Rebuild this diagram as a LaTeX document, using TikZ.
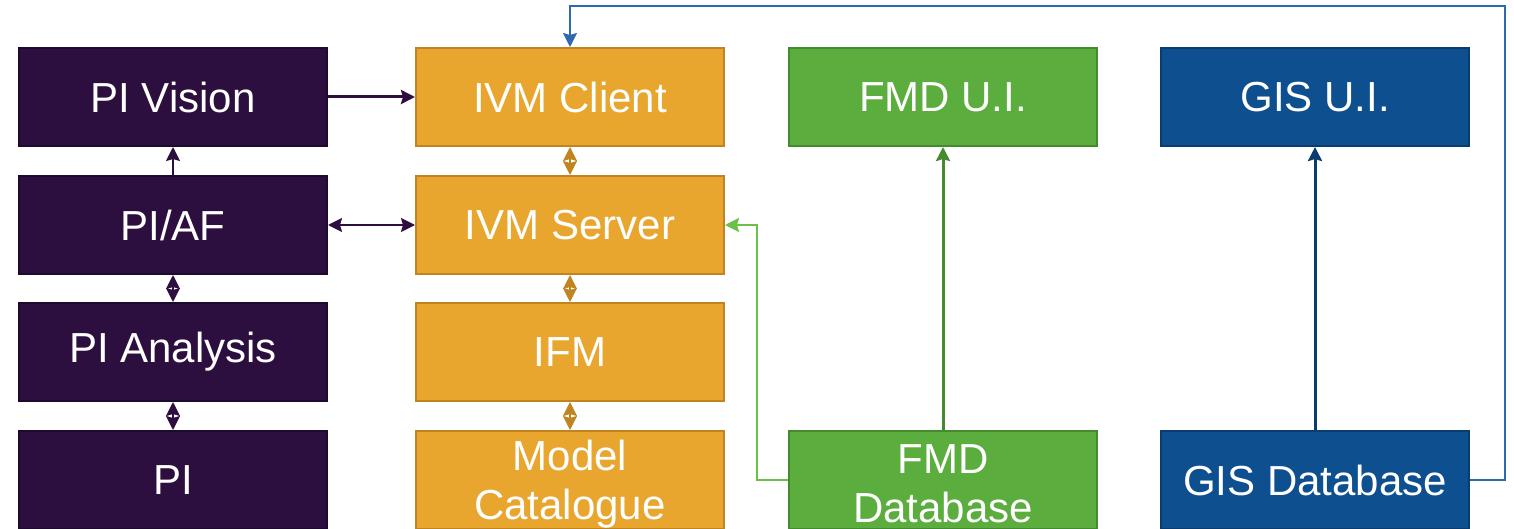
\documentclass[tikz,border=0pt]{standalone}
\usepackage{fontspec}
\setmainfont{Liberation Sans}
\usetikzlibrary{arrows.meta}
\definecolor{pur}{HTML}{2C0F3E}
\definecolor{purd}{HTML}{1E0A2C}
\definecolor{org}{HTML}{E8A62F}
\definecolor{orgd}{HTML}{C08420}
\definecolor{grn}{HTML}{5BAD3E}
\definecolor{grnd}{HTML}{448A2F}
\definecolor{grnl}{HTML}{6CC04A}
\definecolor{blu}{HTML}{0E4F8F}
\definecolor{blud}{HTML}{0A3C6E}
\definecolor{blul}{HTML}{2E6AAD}
\begin{document}
\begin{tikzpicture}[x=1pt,y=-1pt,
  >={Stealth[length=14pt,width=14pt,inset=2pt]},
  box/.style={minimum width=308pt,minimum height=98pt,inner sep=0pt,line width=2pt,
    text=white,align=center,font=\fontsize{42}{49}\selectfont},
  pbox/.style={box,fill=pur,draw=purd},
  obox/.style={box,fill=org,draw=orgd},
  gbox/.style={box,fill=grn,draw=grnd},
  bbox/.style={box,fill=blu,draw=blud},
  lbl/.style={text=white,align=center,inner sep=0pt,font=\fontsize{42}{49}\selectfont},
  conn/.style={line width=2pt}]
\useasboundingbox (0,0) rectangle (1514,529);
% column 1
\node[pbox] (vision) at (173,97) {PI Vision};
\node[pbox] (piaf) at (173,225) {PI/AF};
\node[pbox] (analysis) at (173,352) {PI Analysis};
\node[pbox] (pi) at (173,480) {PI};
% column 2
\node[obox] (client) at (570,97) {IVM Client};
\node[obox] (server) at (570,225) {IVM Server};
\node[obox] (ifm) at (570,352) {IFM};
\node[obox] (model) at (570,480) {};
\node[lbl] (modeltext) at (570,484) {Model\\Catalogue};
% column 3
\node[gbox] (fmdui) at (943,97) {FMD U.I.};
\node[gbox] (fmddb) at (943,480) {};
\node[lbl] (fmdtext) at (943,484) {FMD\\Database};
% column 4
\node[bbox] (gisui) at (1315,97) {GIS U.I.};
\node[bbox] (gisdb) at (1315,480) {GIS Database};
% connectors
\draw[conn,pur,line width=3pt,->] (vision.east) -- (client.west);
\draw[conn,pur,<->] (piaf.east) -- (server.west);
\draw[conn,pur,->] (piaf.north) -- (vision.south);
\draw[conn,pur,<->] (piaf.south) -- (analysis.north);
\draw[conn,pur,<->] (analysis.south) -- (pi.north);
\draw[conn,orgd,<->] (client.south) -- (server.north);
\draw[conn,orgd,<->] (server.south) -- (ifm.north);
\draw[conn,orgd,<->] (ifm.south) -- (model.north);
\draw[conn,grnd,line width=3pt,->] (fmddb.north) -- (fmdui.south);
\draw[conn,blud,line width=3pt,->] (gisdb.north) -- (gisui.south);
\coordinate (g1) at (757,480);
\coordinate (g2) at (757,225);
\draw[conn,grnl,->] (fmddb.west) -- (g1) -- (g2) -- (server.east);
\coordinate (b1) at (1505,480);
\coordinate (b2) at (1505,6);
\coordinate (b3) at (570,6);
\draw[conn,blul,->] (gisdb.east) -- (b1) -- (b2) -- (b3) -- (client.north);
\end{tikzpicture}
\end{document}
